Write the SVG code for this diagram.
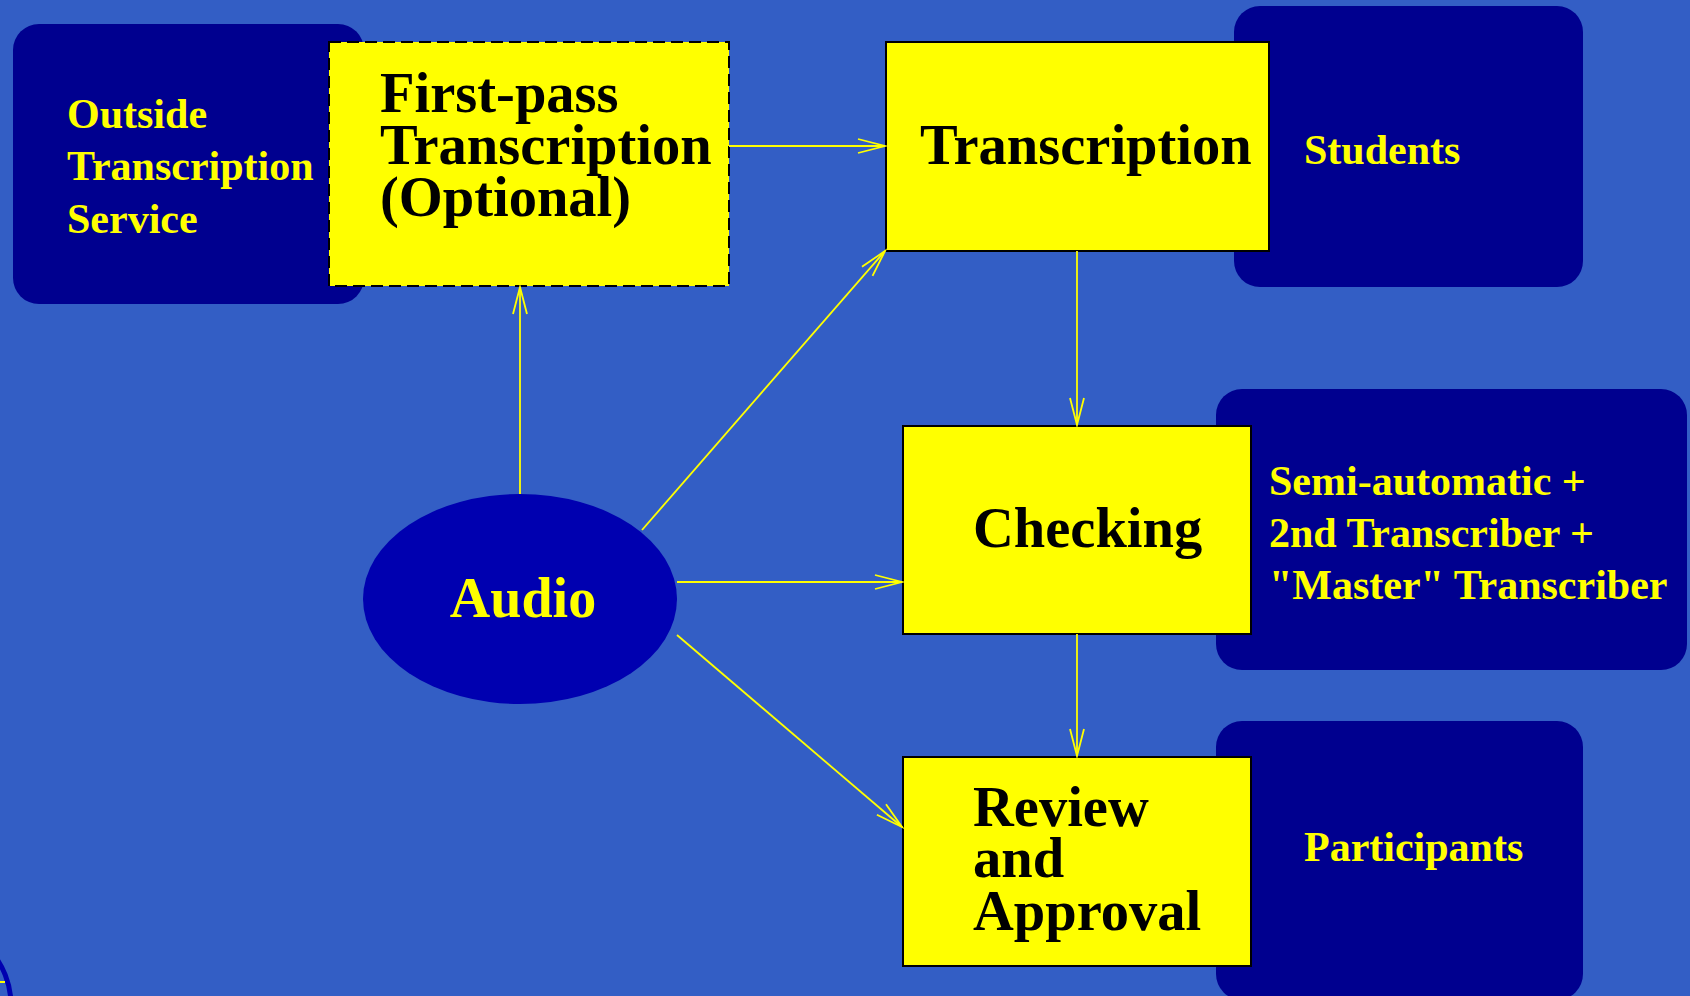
<svg xmlns="http://www.w3.org/2000/svg" width="1690" height="996" viewBox="0 0 1690 996">
  <style>
    .role { fill: #00008f; }
    .step { fill: #ffff00; stroke: #000000; stroke-width: 2; }
    .dashed { stroke-dasharray: 12 6; }
    .big { font-family: "Liberation Serif", "Times New Roman", serif; font-weight: bold; font-size: 56.5px; fill: #000000; }
    .who { font-family: "Liberation Serif", "Times New Roman", serif; font-weight: bold; font-size: 42px; fill: #ffff00; }
    .audio { font-family: "Liberation Serif", "Times New Roman", serif; font-weight: bold; font-size: 56px; fill: #ffff00; }
    .link { stroke: #ffff00; stroke-width: 1.8; fill: none; marker-end: url(#vhead); }
  </style>
  <defs>
    <marker id="vhead" markerUnits="userSpaceOnUse" markerWidth="40" markerHeight="20" viewBox="-30 -10 32 20" refX="0" refY="0" orient="auto">
      <path d="M-27,-7 L0,0 L-27,7" fill="none" stroke="#ffff00" stroke-width="1.8"/>
    </marker>
  </defs>

  <!-- background -->
  <rect x="0" y="0" width="1690" height="996" fill="#335ec5"/>

  <!-- corner emblem, mostly off the page -->
  <g id="emblem">
    <circle cx="-71" cy="1005" r="82" fill="none" stroke="#0000b0" stroke-width="5"/>
    <line x1="0" y1="982" x2="5" y2="982" stroke="#ffff00" stroke-width="2"/>
  </g>

  <!-- who performs each step -->
  <g id="outside-service">
    <rect class="role" x="13" y="24" width="351" height="280" rx="26" ry="26"/>
    <text class="who"><tspan x="67" y="128">Outside</tspan><tspan x="67" y="180">Transcription</tspan><tspan x="67" y="233">Service</tspan></text>
  </g>
  <g id="students">
    <rect class="role" x="1234" y="6" width="349" height="281" rx="26" ry="26"/>
    <text class="who" x="1304" y="164">Students</text>
  </g>
  <g id="checkers">
    <rect class="role" x="1216" y="389" width="471" height="281" rx="26" ry="26"/>
    <text class="who"><tspan x="1269" y="495">Semi-automatic +</tspan><tspan x="1269" y="547">2nd Transcriber +</tspan><tspan x="1269" y="599">"Master" Transcriber</tspan></text>
  </g>
  <g id="participants">
    <rect class="role" x="1216" y="721" width="367" height="279" rx="26" ry="26"/>
    <text class="who" x="1304" y="861">Participants</text>
  </g>

  <!-- process steps -->
  <g id="first-pass">
    <rect class="step dashed" x="329" y="42" width="400" height="244"/>
    <text class="big"><tspan x="380" y="112">First-pass</tspan><tspan x="380" y="164">Transcription</tspan><tspan x="380" y="216">(Optional)</tspan></text>
  </g>
  <g id="transcription">
    <rect class="step" x="886" y="42" width="383" height="209"/>
    <text class="big" x="920" y="164">Transcription</text>
  </g>
  <g id="checking">
    <rect class="step" x="903" y="426" width="348" height="208"/>
    <text class="big" x="973" y="547">Checking</text>
  </g>
  <g id="review">
    <rect class="step" x="903" y="757" width="348" height="209"/>
    <text class="big"><tspan x="973" y="826">Review</tspan><tspan x="973" y="877">and</tspan><tspan x="973" y="930">Approval</tspan></text>
  </g>
  <g id="audio">
    <ellipse cx="520" cy="599" rx="157" ry="105" fill="#0000b0"/>
    <text class="audio" x="523" y="617" text-anchor="middle">Audio</text>
  </g>

  <!-- connectors -->
  <g id="connectors">
    <line class="link" x1="729" y1="146" x2="885" y2="146"/>
    <line class="link" x1="520" y1="494" x2="520" y2="287"/>
    <line class="link" x1="642" y1="530" x2="885" y2="251"/>
    <line class="link" x1="677" y1="582" x2="902" y2="582"/>
    <line class="link" x1="677" y1="635" x2="902" y2="827"/>
    <line class="link" x1="1077" y1="251" x2="1077" y2="425"/>
    <line class="link" x1="1077" y1="634" x2="1077" y2="756"/>
  </g>
</svg>
